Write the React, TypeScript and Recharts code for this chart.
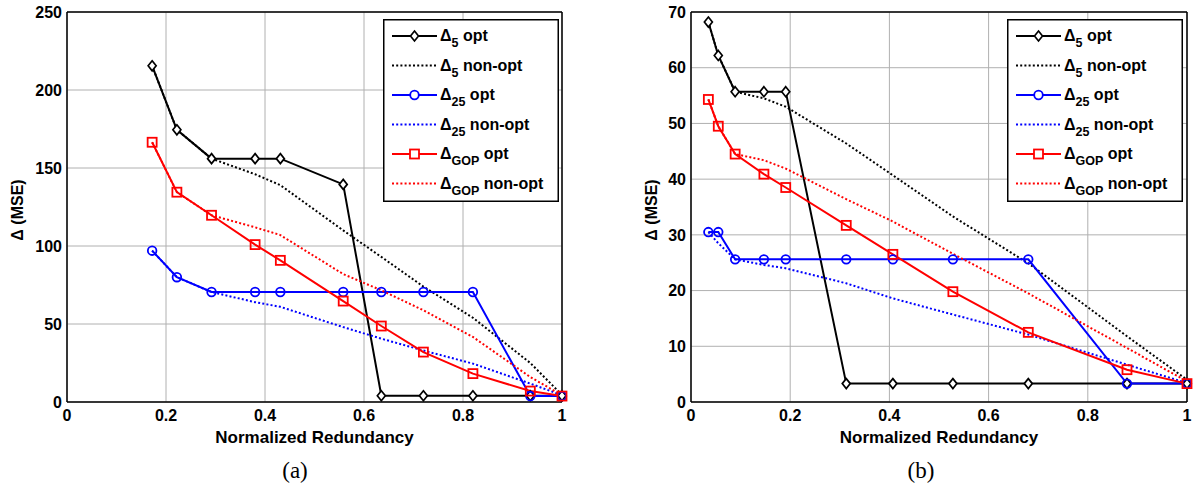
import React from 'react';
import { LineChart, Line, XAxis, YAxis, CartesianGrid, ReferenceLine } from 'recharts';

// ---- Data (a) ----
const xA = [0.172, 0.222, 0.292, 0.38, 0.431, 0.558, 0.635, 0.72, 0.82, 0.936, 1.0];
const d5OptA = [215.5, 174.5, 156, 156, 156, 139.5, 4, 4, 4, 4, 4];
const d5NonA = [215.5, 174.5, 156, 146, 139, 110, 93, 74, 54, 25, 4.5];
const d25OptA = [97, 80, 70.5, 70.5, 70.5, 70.5, 70.5, 70.5, 70.5, 3.8, 3.8];
const d25NonA = [97, 80, 70.5, 64, 61, 48, 40.6, 33, 24.6, 11.8, 4.3];
const gopOptA = [166.5, 134.5, 119.7, 100.9, 90.8, 64.7, 48.7, 32, 18.2, 7, 3.8];
const gopNonA = [166.5, 134.5, 119.7, 112, 107, 82, 71.6, 58.8, 41.7, 16, 4.3];

// ---- Data (b) ----
const xB = [0.035, 0.055, 0.089, 0.147, 0.191, 0.313, 0.407, 0.528, 0.68, 0.879, 1.0];
const d5OptB = [68.2, 62.2, 55.7, 55.7, 55.7, 3.3, 3.3, 3.3, 3.3, 3.3, 3.3];
const d5NonB = [68.2, 62.2, 55.7, 54.5, 53, 46.4, 40.7, 33.3, 24.9, 11.8, 4];
const d25OptB = [30.5, 30.5, 25.6, 25.6, 25.6, 25.6, 25.6, 25.6, 25.6, 3.3, 3.3];
const d25NonB = [30.5, 28.5, 25.6, 24.6, 24.0, 21.3, 18.6, 15.7, 12.1, 6.7, 3.4];
const gopOptB = [54.3, 49.5, 44.5, 40.9, 38.5, 31.7, 26.5, 19.8, 12.5, 5.8, 3.3];
const gopNonB = [54.3, 49.5, 44.5, 43.4, 41.9, 36.4, 32.4, 26.6, 19.5, 9.7, 3.7];

const xTicks = [0, 0.2, 0.4, 0.6, 0.8, 1];
const yTicksA = [0, 50, 100, 150, 200, 250];
const yTicksB = [0, 10, 20, 30, 40, 50, 60, 70];

const legendNames = [
  { sub: '5', rest: ' opt' },
  { sub: '5', rest: ' non-opt' },
  { sub: '25', rest: ' opt' },
  { sub: '25', rest: ' non-opt' },
  { sub: 'GOP', rest: ' opt' },
  { sub: 'GOP', rest: ' non-opt' },
];

const build = (x: number[], s: number[][]) =>
  x.map((v, i) => ({
    x: v,
    d5opt: s[0][i],
    d5non: s[1][i],
    d25opt: s[2][i],
    d25non: s[3][i],
    gopOpt: s[4][i],
    gopNon: s[5][i],
  }));

const dataA = build(xA, [d5OptA, d5NonA, d25OptA, d25NonA, gopOptA, gopNonA]);
const dataB = build(xB, [d5OptB, d5NonB, d25OptB, d25NonB, gopOptB, gopNonB]);

const FONT = '"Liberation Sans", Arial, Helvetica, sans-serif';
const BLACK = '#000000';
const BLUE = '#0000ff';
const RED = '#ff0000';
const DOT = '2 2.2';

const diamondPath = (cx: number, cy: number) =>
  `M${cx},${cy - 5} L${cx + 4},${cy} L${cx},${cy + 5} L${cx - 4},${cy} Z`;

const Diamond = (p: any) =>
  p.cx == null ? <g key={p.key} /> : (
    <path key={p.key} d={diamondPath(p.cx, p.cy)} fill="white" stroke={BLACK} strokeWidth={1.7} />
  );
const CircleDot = (p: any) =>
  p.cx == null ? <g key={p.key} /> : (
    <circle key={p.key} cx={p.cx} cy={p.cy} r={4.3} fill="none" stroke={BLUE} strokeWidth={1.8} />
  );
const SquareDot = (p: any) =>
  p.cx == null ? <g key={p.key} /> : (
    <rect key={p.key} x={p.cx - 4.5} y={p.cy - 4.5} width={9} height={9} fill="none" stroke={RED} strokeWidth={1.8} />
  );

const tickStyle = { fill: BLACK, fontSize: 16, fontWeight: 700, fontFamily: FONT };

const fmtX = (v: number) => (v === 0 || v === 1 ? String(v) : v.toFixed(1));

const YLabel = (offset: number) => (props: any) => {
  const vb = props.viewBox || {};
  const x = vb.x + offset;
  const y = vb.y + vb.height / 2 + 3;
  return (
    <text
      x={x}
      y={y}
      transform={`rotate(-90, ${x}, ${y})`}
      textAnchor="middle"
      dominantBaseline="central"
      fill={BLACK}
      fontSize={16}
      fontWeight={700}
      fontFamily={FONT}
    >
      Δ (MSE)
    </text>
  );
};

const LegendBox = ({ left, top }: { left: number; top: number }) => {
  const styles = [
    { color: BLACK, dash: undefined, marker: 'diamond' },
    { color: BLACK, dash: DOT, marker: null },
    { color: BLUE, dash: undefined, marker: 'circle' },
    { color: BLUE, dash: DOT, marker: null },
    { color: RED, dash: undefined, marker: 'square' },
    { color: RED, dash: DOT, marker: null },
  ];
  return (
    <svg width={176} height={183} style={{ position: 'absolute', left, top, overflow: 'visible' }}>
      <rect x={0.75} y={0.75} width={174.5} height={181.5} fill="white" stroke={BLACK} strokeWidth={1.5} />
      {styles.map((s, i) => {
        const cy = 17 + i * 29.5;
        const cx = 31.5;
        return (
          <g key={i}>
            <line x1={9} x2={54} y1={cy} y2={cy} stroke={s.color} strokeWidth={2} strokeDasharray={s.dash} />
            {s.marker === 'diamond' && (
              <path d={diamondPath(cx, cy)} fill="white" stroke={BLACK} strokeWidth={1.7} />
            )}
            {s.marker === 'circle' && <circle cx={cx} cy={cy} r={4.3} fill="white" stroke={BLUE} strokeWidth={1.8} />}
            {s.marker === 'square' && (
              <rect x={cx - 4.5} y={cy - 4.5} width={9} height={9} fill="white" stroke={RED} strokeWidth={1.8} />
            )}
            <text x={57} y={cy + 5} fill={BLACK} fontSize={16} fontWeight={700} fontFamily={FONT}>
              Δ
              <tspan fontSize={12.5} dy={6}>{legendNames[i].sub}</tspan>
              <tspan dy={-6}>{legendNames[i].rest}</tspan>
            </text>
          </g>
        );
      })}
    </svg>
  );
};

const Panel = ({
  data,
  yMax,
  yTicks,
  margin,
  yWidth,
  labelOffset,
}: {
  data: any[];
  yMax: number;
  yTicks: number[];
  margin: any;
  yWidth: number;
  labelOffset: number;
}) => (
  <LineChart width={margin.w} height={460} data={data} margin={{ top: margin.top, right: margin.right, left: margin.left, bottom: margin.bottom }}>
    <CartesianGrid stroke="#b0b0b0" strokeWidth={1} />
    <XAxis
      type="number"
      dataKey="x"
      domain={[0, 1]}
      ticks={xTicks}
      tickFormatter={fmtX}
      tick={tickStyle}
      tickLine={false}
      tickSize={0}
      tickMargin={8}
      axisLine={{ stroke: BLACK, strokeWidth: 1.5 }}
      height={45}
      label={{
        value: 'Normalized Redundancy',
        position: 'insideBottom',
        offset: 4,
        fill: BLACK,
        fontSize: 17,
        fontWeight: 700,
        fontFamily: FONT,
      } as any}
    />
    <YAxis
      type="number"
      domain={[0, yMax]}
      ticks={yTicks}
      tick={tickStyle}
      tickLine={false}
      tickSize={0}
      tickMargin={5}
      width={yWidth}
      axisLine={{ stroke: BLACK, strokeWidth: 1.5 }}
      label={{ content: YLabel(labelOffset) } as any}
    />
    <ReferenceLine y={yMax} stroke={BLACK} strokeWidth={1.5} />
    <ReferenceLine x={1} stroke={BLACK} strokeWidth={1.5} />
    <Line dataKey="d5opt" stroke={BLACK} strokeWidth={2} dot={Diamond} isAnimationActive={false} />
    <Line dataKey="d5non" stroke={BLACK} strokeWidth={2} strokeDasharray={DOT} dot={false} isAnimationActive={false} />
    <Line dataKey="d25opt" stroke={BLUE} strokeWidth={2} dot={CircleDot} isAnimationActive={false} />
    <Line dataKey="d25non" stroke={BLUE} strokeWidth={2} strokeDasharray={DOT} dot={false} isAnimationActive={false} />
    <Line dataKey="gopOpt" stroke={RED} strokeWidth={2} dot={SquareDot} isAnimationActive={false} />
    <Line dataKey="gopNon" stroke={RED} strokeWidth={2} strokeDasharray={DOT} dot={false} isAnimationActive={false} />
  </LineChart>
);

const captionStyle: React.CSSProperties = {
  position: 'absolute',
  top: 457,
  width: 60,
  textAlign: 'center',
  fontFamily: '"Liberation Serif", "Times New Roman", serif',
  fontSize: 23,
  color: BLACK,
  lineHeight: '28px',
};

export default function App() {
  return (
    <div style={{ position: 'absolute', left: 0, top: 0, width: 1198, height: 489, background: 'white', overflow: 'hidden' }}>
      <div style={{ position: 'absolute', left: 0, top: 0 }}>
        <Panel data={dataA} yMax={250} yTicks={yTicksA} margin={{ w: 600, top: 12, right: 38, left: 5, bottom: 13 }} yWidth={62} labelOffset={12} />
      </div>
      <div style={{ position: 'absolute', left: 600, top: 0 }}>
        <Panel data={dataB} yMax={70} yTicks={yTicksB} margin={{ w: 598, top: 12, right: 11, left: 20, bottom: 13 }} yWidth={71} labelOffset={31.6} />
      </div>
      <LegendBox left={383} top={19} />
      <LegendBox left={1007} top={19} />
      <div style={{ ...captionStyle, left: 265 }}>(a)</div>
      <div style={{ ...captionStyle, left: 891 }}>(b)</div>
    </div>
  );
}
